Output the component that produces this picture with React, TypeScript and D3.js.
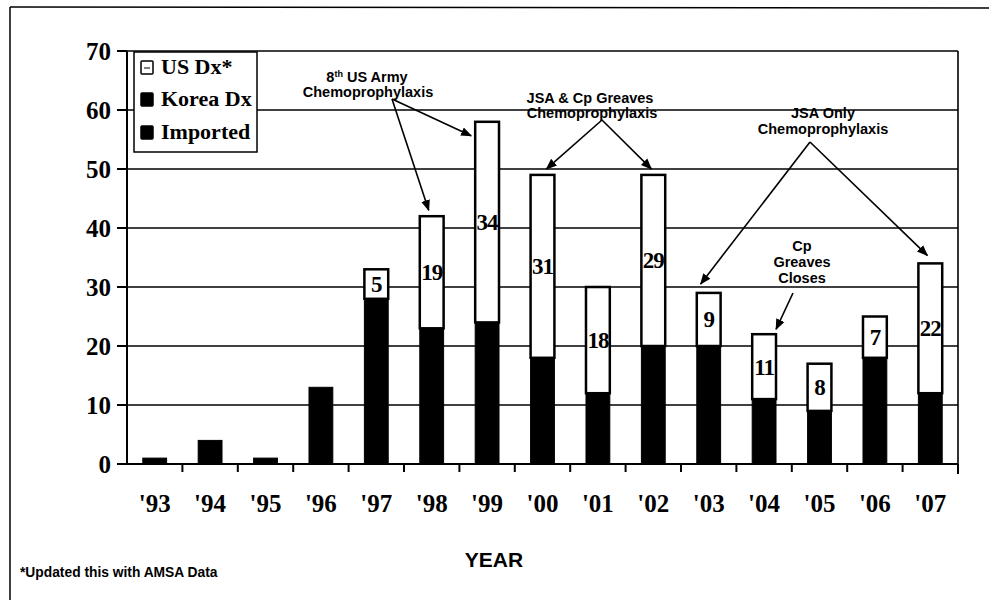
import React from "react";
import * as d3 from "d3";

const years = ["'93", "'94", "'95", "'96", "'97", "'98", "'99", "'00", "'01", "'02", "'03", "'04", "'05", "'06", "'07"];
const importedCases = [0, 0, 0, 0, 0, 0, 0, 0, 0, 0, 0, 0, 0, 0, 0];
const koreaDx = [1, 4, 1, 13, 28, 23, 24, 18, 12, 20, 20, 11, 9, 18, 12];
const usDx = [0, 0, 0, 0, 5, 19, 34, 31, 18, 29, 9, 11, 8, 7, 22];
const yTicks = [0, 10, 20, 30, 40, 50, 60, 70];
const legendLabels = ["US Dx*", "Korea Dx", "Imported"];

const W = 989;
const H = 600;
const X0 = 127;
const X1 = 958;
const YTOP = 51;
const YBOT = 464;

export default function App() {
  const x = d3.scaleBand<string>().domain(years).range([X0, X1]).paddingInner(0.57).paddingOuter(0.285);
  const y = d3.scaleLinear().domain([0, 70]).range([YBOT, YTOP]);
  const step = x.step();
  const bw = x.bandwidth();

  const rows = years.map((yr, i) => ({ yr, imported: importedCases[i], korea: koreaDx[i], us: usDx[i] }));
  const stack = d3.stack<any>().keys(["imported", "korea", "us"])(rows);

  const serif = "'Liberation Serif', 'Times New Roman', serif";
  const sans = "'Liberation Sans', Arial, sans-serif";

  const cx = (i: number) => (x(years[i]) as number) + bw / 2;
  const top = (i: number) => y(importedCases[i] + koreaDx[i] + usDx[i]);

  const arrows: [number, number, number, number][] = [
    [392, 99, cx(5) - 3, top(5) - 6],
    [392, 99, cx(6) - 16, top(6) + 14],
    [602, 120, cx(7) + 4, top(7) - 6],
    [602, 120, cx(9) - 2, top(9) - 6],
    [810, 142, cx(10) - 8, top(10) - 9],
    [810, 142, cx(14) - 3, top(14) - 8],
    [793, 293, cx(11) + 12, top(11) - 5],
  ];

  return (
    <svg width={W} height={H} style={{ display: "block", position: "absolute", left: 0, top: 0, background: "#fff" }}>
      <defs>
        <marker id="ah" viewBox="0 0 10 10" refX="9" refY="5" markerWidth="7" markerHeight="7" orient="auto">
          <path d="M0,1 L10,5 L0,9 z" fill="#000" />
        </marker>
      </defs>
      <rect x={0} y={0} width={W} height={H} fill="#fff" />
      {/* outer frame */}
      <line x1={10} y1={7} x2={989} y2={8} stroke="#000" strokeWidth={1.5} />
      <line x1={10} y1={7} x2={10} y2={600} stroke="#000" strokeWidth={1.5} />

      {/* gridlines */}
      {yTicks.map((t) => (
        <line key={"g" + t} x1={X0} x2={X1} y1={y(t)} y2={y(t)} stroke="#000" strokeWidth={1.6} />
      ))}
      {/* plot border */}
      <line x1={X1} x2={X1} y1={YTOP} y2={YBOT} stroke="#000" strokeWidth={1.6} />
      <line x1={X0} x2={X0} y1={YTOP} y2={YBOT} stroke="#000" strokeWidth={2} />
      <line x1={X0} x2={X1} y1={YBOT} y2={YBOT} stroke="#000" strokeWidth={2} />

      {/* y ticks */}
      {yTicks.map((t) => (
        <g key={"yt" + t}>
          <line x1={117} x2={X0} y1={y(t)} y2={y(t)} stroke="#000" strokeWidth={2} />
          <text x={111} y={y(t) + 9} textAnchor="end" fontFamily={serif} fontWeight="bold" fontSize={25}>
            {t}
          </text>
        </g>
      ))}

      {/* x ticks */}
      {years.map((yr, i) => {
        const bx = (x(yr) as number) - (step - bw) / 2;
        return i === 0 ? null : <line key={"xt" + yr} x1={bx} x2={bx} y1={YBOT} y2={YBOT + 8} stroke="#000" strokeWidth={2} />;
      })}
      <line x1={X1} x2={X1} y1={YBOT} y2={YBOT + 10} stroke="#000" strokeWidth={2} />
      {years.map((yr, i) => (
        <text key={"xl" + yr} x={cx(i)} y={512} textAnchor="middle" fontFamily={serif} fontWeight="bold" fontSize={25}>
          {yr}
        </text>
      ))}

      {/* bars */}
      {stack.map((s, si) =>
        s.map((d, i) => {
          const h = y(d[0]) - y(d[1]);
          if (h <= 0) return null;
          const isUs = si === 2;
          return (
            <rect
              key={"b" + si + "-" + i}
              x={x(years[i]) as number}
              y={y(d[1])}
              width={bw}
              height={h}
              fill={isUs ? "#fff" : "#000"}
              stroke="#000"
              strokeWidth={isUs ? 2.5 : 1}
            />
          );
        })
      )}
      {/* US labels */}
      {stack[2].map((d, i) =>
        usDx[i] > 0 ? (
          <text
            key={"lab" + i}
            x={cx(i)}
            y={(y(d[0]) + y(d[1])) / 2 + 8}
            textAnchor="middle"
            fontFamily={serif}
            fontWeight="bold"
            fontSize={23}
            style={{ letterSpacing: "-1px" }}
          >
            {usDx[i]}
          </text>
        ) : null
      )}

      {/* legend */}
      <rect x={134} y={52} width={123} height={100} fill="#fff" stroke="#000" strokeWidth={1.5} />
      {legendLabels.map((lab, i) => {
        const ly = [74, 106, 139][i];
        return (
          <g key={"lg" + i}>
            <rect
              x={141}
              y={ly - 13}
              width={12}
              height={13}
              fill={i === 0 ? "#fff" : "#000"}
              stroke="#000"
              strokeWidth={1.5}
              rx={1}
            />
            {i === 0 ? <line x1={144} x2={150} y1={ly - 6} y2={ly - 6} stroke="#000" strokeWidth={1} /> : null}
            <text x={161} y={ly} fontFamily={serif} fontWeight="bold" fontSize={22}>
              {lab}
            </text>
          </g>
        );
      })}

      {/* annotations */}
      <g fontFamily={sans} fontWeight="bold" fontSize={14.5} textAnchor="middle">
        <text x={367} y={82}>
          8<tspan fontSize={9} dy={-5}>th</tspan>
          <tspan dy={5}> US Army</tspan>
        </text>
        <text x={368} y={97}>Chemoprophylaxis</text>
        <text x={590} y={103}>JSA &amp; Cp Greaves</text>
        <text x={592} y={118}>Chemoprophylaxis</text>
        <text x={823} y={118}>JSA Only</text>
        <text x={823} y={134}>Chemoprophylaxis</text>
        <text x={802} y={251}>Cp</text>
        <text x={802} y={267}>Greaves</text>
        <text x={802} y={283}>Closes</text>
      </g>
      {arrows.map((a, i) => (
        <line key={"ar" + i} x1={a[0]} y1={a[1]} x2={a[2]} y2={a[3]} stroke="#000" strokeWidth={1.6} markerEnd="url(#ah)" />
      ))}

      {/* axis title + footnote */}
      <text x={494} y={567} textAnchor="middle" fontFamily={sans} fontWeight="bold" fontSize={21}>
        YEAR
      </text>
      <text x={20} y={577} fontFamily={sans} fontWeight="bold" fontSize={13.8}>
        *Updated this with AMSA Data
      </text>
    </svg>
  );
}
